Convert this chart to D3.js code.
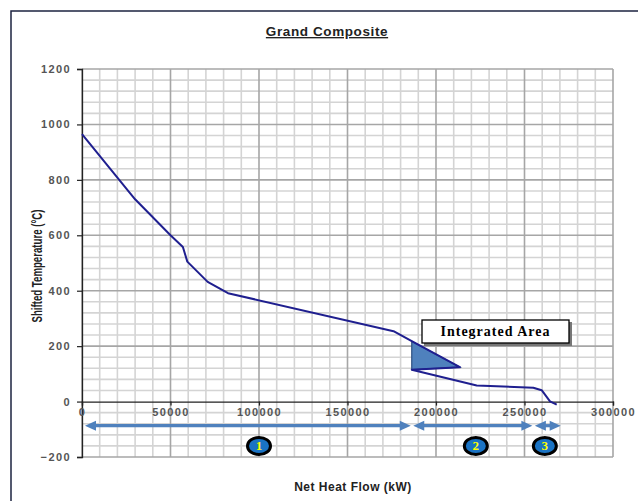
<!DOCTYPE html>
<html><head><meta charset="utf-8">
<script src="https://cdn.jsdelivr.net/npm/d3@7"></script>
<style>body{margin:0;background:#fff}svg{display:block}</style>
</head><body>
<svg id="c" width="638" height="501"></svg>
<script>
// Data
const curveX = [0, 30000, 50000, 57000, 59500, 71000, 82500, 176000, 186300, 213500, 186300, 223000, 255000, 259700, 264400, 268200];
const curveY = [965, 730, 600, 558, 505, 432, 391, 254, 218, 124, 115, 58, 50, 41, 1, -11];
const pocketX = [186300, 213500, 186300];
const pocketY = [218, 124, 115];
const arrowStart = [0, 186300, 255000];
const arrowEnd = [186300, 255000, 271000];
const arrowLevel = -87;
const badgeLabels = ["1", "2", "3"];
const badgeX = [100000, 222500, 261500];
const badgeLevel = -160;
const xTicks = [0, 50000, 100000, 150000, 200000, 250000, 300000];
const yTicks = [-200, 0, 200, 400, 600, 800, 1000, 1200];

const svg = d3.select("#c");
const x = d3.scaleLinear().domain([0, 300000]).range([82, 613]);
const y = d3.scaleLinear().domain([-200, 1200]).range([457, 69]);

// frame
svg.append("path").attr("d","M11,501 V11 H638").attr("fill","none").attr("stroke","#1c2340").attr("stroke-width",1.5);

// grid
const g = svg.append("g");
d3.range(0, 300001, 10000).forEach(v=>{
  if (v % 50000 !== 0) g.append("line").attr("x1",x(v)).attr("x2",x(v)).attr("y1",y(-200)).attr("y2",y(1200)).attr("stroke","#d4d4d4").attr("stroke-width",1.6);
});
d3.range(-200, 1201, 40).forEach(v=>{
  if (v % 200 !== 0) g.append("line").attr("y1",y(v)).attr("y2",y(v)).attr("x1",x(0)).attr("x2",x(300000)).attr("stroke","#d4d4d4").attr("stroke-width",1.6);
});
xTicks.forEach(v=>{ g.append("line").attr("x1",x(v)).attr("x2",x(v)).attr("y1",y(-200)).attr("y2",y(1200)).attr("stroke","#a6a6a6").attr("stroke-width",1.6); });
yTicks.forEach(v=>{ if(v!==0) g.append("line").attr("y1",y(v)).attr("y2",y(v)).attr("x1",x(0)).attr("x2",x(300000)).attr("stroke","#a6a6a6").attr("stroke-width",1.6); });

// axes
const yAxis = svg.append("g").attr("transform",`translate(${x(0)},0)`)
  .call(d3.axisLeft(y).tickValues(yTicks).tickSize(5).tickPadding(6).tickFormat(d3.format("d")));
const xAxis = svg.append("g").attr("transform",`translate(0,${y(0)})`)
  .call(d3.axisBottom(x).tickValues(xTicks).tickSize(4).tickPadding(3).tickFormat(d3.format("d")));
[yAxis, xAxis].forEach(a=>{
  a.select(".domain").attr("stroke","#222").attr("stroke-width",1.3);
  a.selectAll(".tick line").attr("stroke","#222").attr("stroke-width",1.2);
  a.selectAll("text").attr("fill","#555").attr("font-family","Arial, 'Liberation Sans', sans-serif").attr("font-weight","bold").attr("font-size","11px").style("letter-spacing","1.4px");
});

// pocket (integrated area)
svg.append("path")
  .attr("d", d3.line().x((d,i)=>x(pocketX[i])).y((d,i)=>y(pocketY[i]))(pocketX) + "Z")
  .attr("fill","#4f81bd").attr("stroke","#2d4f80").attr("stroke-width",1.2);

// curve
svg.append("path")
  .attr("d", d3.line().x((d,i)=>x(curveX[i])).y((d,i)=>y(curveY[i]))(curveX))
  .attr("fill","none").attr("stroke","#1f1f8f").attr("stroke-width",2).attr("stroke-linejoin","round");

// arrows
const arrowCol = "#4f81bd";
function head(tx, ty, dir){
  const L = 11, W = 5;
  return `M${tx},${ty} L${tx - dir*L},${ty-W} L${tx - dir*L},${ty+W} Z`;
}
arrowStart.forEach((s,i)=>{
  const x1 = x(s) + (i===0?3:1.5), x2 = x(arrowEnd[i]) - 1, yy = y(arrowLevel);
  svg.append("line").attr("x1",x1+6).attr("x2",x2-6).attr("y1",yy).attr("y2",yy).attr("stroke",arrowCol).attr("stroke-width",3.2);
  svg.append("path").attr("d",head(x1,yy,-1)).attr("fill",arrowCol);
  svg.append("path").attr("d",head(x2,yy,1)).attr("fill",arrowCol);
});

// badges
badgeLabels.forEach((t,i)=>{
  const cx = x(badgeX[i]), cy = y(badgeLevel);
  svg.append("ellipse").attr("cx",cx).attr("cy",cy).attr("rx",11.5).attr("ry",8.5).attr("fill","#1a73c4").attr("stroke","#000").attr("stroke-width",3);
  svg.append("text").attr("x",cx).attr("y",cy+4.5).attr("text-anchor","middle").attr("fill","#ffff00")
    .attr("font-family","'Liberation Serif', 'Times New Roman', serif").attr("font-weight","bold").attr("font-size","13px").text(t);
});

// Integrated Area box
svg.append("rect").attr("x",424).attr("y",322).attr("width",148).attr("height",24).attr("fill","#777");
svg.append("rect").attr("x",422).attr("y",320).attr("width",147).attr("height",23).attr("fill","#fff").attr("stroke","#000").attr("stroke-width",1.3);
svg.append("text").attr("x",495.5).attr("y",336).attr("text-anchor","middle")
  .attr("font-family","'Liberation Serif', 'Times New Roman', serif").attr("font-weight","bold").attr("font-size","14px")
  .style("letter-spacing","1px").attr("fill","#000").text("Integrated Area");

// title
svg.append("text").attr("x",327).attr("y",36).attr("text-anchor","middle")
  .attr("font-family","Arial, 'Liberation Sans', sans-serif").attr("font-weight","bold").attr("font-size","13.5px")
  .attr("text-decoration","underline").style("letter-spacing","0.6px").attr("fill","#222").text("Grand Composite");

// axis titles
svg.append("text").attr("x",353).attr("y",491).attr("text-anchor","middle")
  .attr("font-family","Arial, 'Liberation Sans', sans-serif").attr("font-weight","bold").attr("font-size","12px")
  .style("letter-spacing","0.5px").attr("fill","#222").text("Net Heat Flow (kW)");
svg.append("text").attr("transform","translate(42,266) rotate(-90)").attr("text-anchor","middle")
  .attr("font-family","Arial, 'Liberation Sans', sans-serif").attr("font-weight","bold").attr("font-size","14px")
  .attr("textLength",113).attr("lengthAdjust","spacingAndGlyphs").attr("fill","#222").text("Shifted Temperature (°C)");
</script>
</body></html>
